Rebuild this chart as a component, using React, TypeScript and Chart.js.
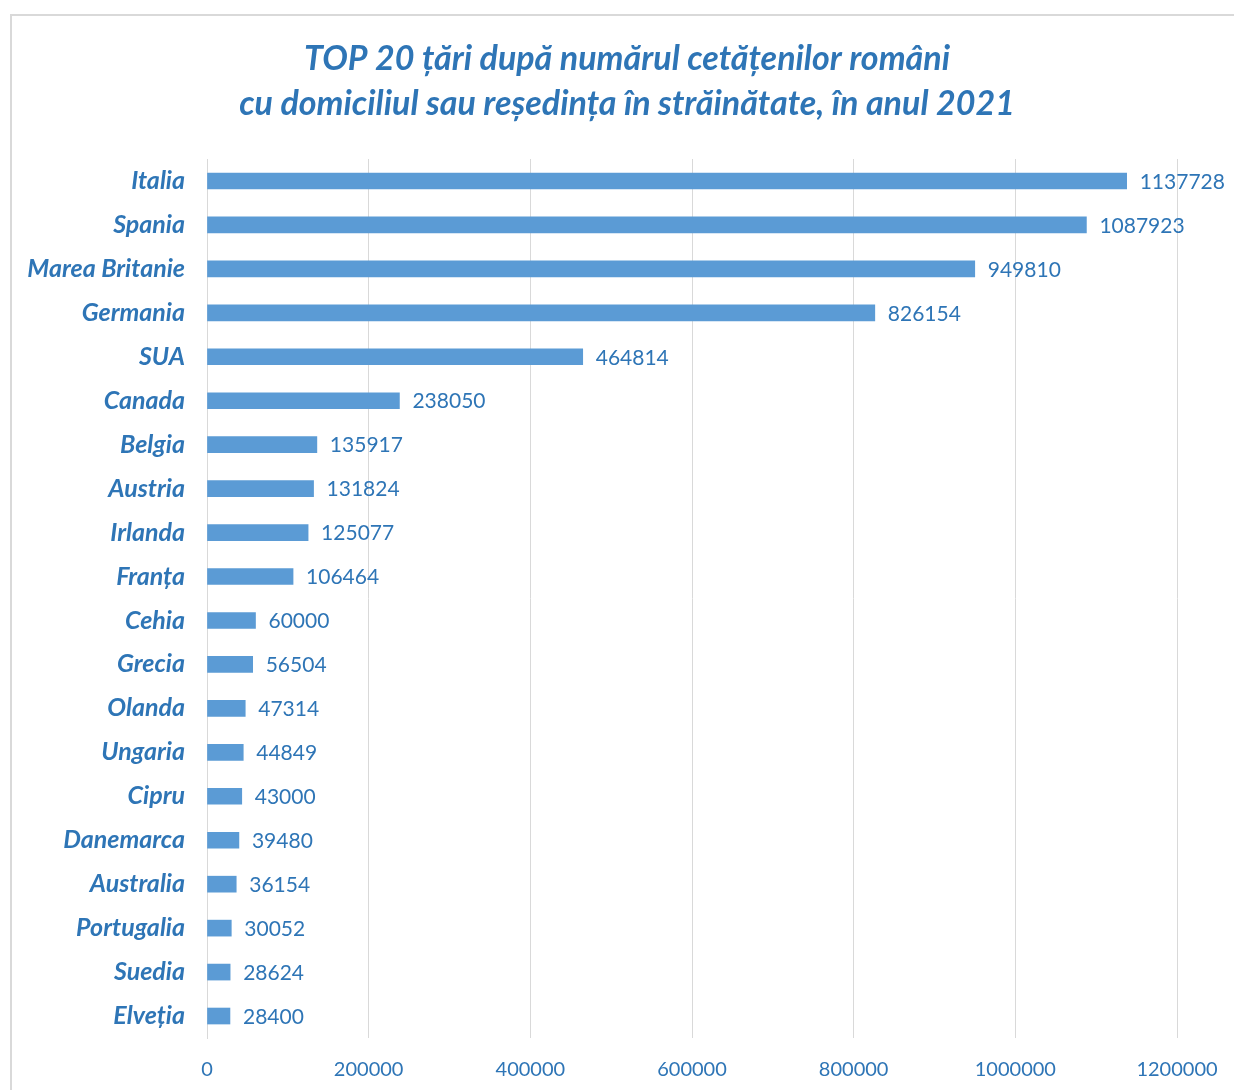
import React, { useEffect, useRef } from "react";
import { Chart, registerables } from "chart.js";

Chart.register(...registerables);

const countries = [
  "Italia", "Spania", "Marea Britanie", "Germania", "SUA", "Canada", "Belgia", "Austria",
  "Irlanda", "Franța", "Cehia", "Grecia", "Olanda", "Ungaria", "Cipru", "Danemarca",
  "Australia", "Portugalia", "Suedia", "Elveția",
];
const citizens = [
  1137728, 1087923, 949810, 826154, 464814, 238050, 135917, 131824,
  125077, 106464, 60000, 56504, 47314, 44849, 43000, 39480,
  36154, 30052, 28624, 28400,
];
const titleLines = [
  "TOP 20 țări după numărul cetățenilor români",
  "cu domiciliul sau reședința în străinătate, în anul 2021",
];

const FONT = "Lato, 'Open Sans', sans-serif";
const BLUE_TEXT = "#2e75b6";
const BAR = "#5b9bd5";
const GRID = "#d9d9d9";

const decorPlugin = {
  id: "decor",
  beforeDraw(chart: any) {
    const ctx = chart.ctx;
    ctx.save();
    ctx.strokeStyle = GRID;
    ctx.lineWidth = 2;
    ctx.beginPath();
    ctx.moveTo(11, 1090);
    ctx.lineTo(11, 15);
    ctx.lineTo(1234, 15);
    ctx.stroke();
    ctx.fillStyle = BLUE_TEXT;
    ctx.font = `italic bold 34px ${FONT}`;
    ctx.textAlign = "center";
    ctx.textBaseline = "middle";
    ctx.fillText(titleLines[0], 627, 59);
    ctx.fillText(titleLines[1], 627, 104);
    ctx.restore();
  },
  afterDatasetsDraw(chart: any) {
    const ctx = chart.ctx;
    const meta = chart.getDatasetMeta(0);
    ctx.save();
    ctx.fillStyle = BLUE_TEXT;
    ctx.font = `21px ${FONT}`;
    ctx.textAlign = "left";
    ctx.textBaseline = "middle";
    meta.data.forEach((el: any, i: number) => {
      ctx.fillText(String(citizens[i]), el.x + 13, el.y + 1);
    });
    ctx.restore();
  },
};

export default function App() {
  const ref = useRef<HTMLCanvasElement>(null);
  useEffect(() => {
    document.body.style.margin = "0";
    const chart = new Chart(ref.current!, {
      type: "bar",
      data: {
        labels: countries,
        datasets: [
          {
            data: citizens,
            backgroundColor: BAR,
            barThickness: 16,
          },
        ],
      },
      options: {
        indexAxis: "y",
        animation: false,
        responsive: false,
        devicePixelRatio: 1,
        layout: { padding: { left: 20, right: 57, top: 159, bottom: 0 } },
        plugins: { legend: { display: false }, tooltip: { enabled: false }, title: { display: false } },
        scales: {
          x: {
            min: 0,
            max: 1200000,
            afterFit: (s: any) => { s.height = 52; s.paddingRight = 0; s.paddingLeft = 0; },
            grid: { color: GRID, drawTicks: false, lineWidth: 1 },
            border: { display: false },
            ticks: {
              stepSize: 200000,
              padding: 20,
              color: BLUE_TEXT,
              font: { family: FONT, size: 20 },
              callback: (v: any) => String(v),
            },
          },
          y: {
            afterFit: (s: any) => { s.width = 187; },
            grid: { display: false, drawTicks: false },
            border: { display: true, color: GRID },
            ticks: {
              padding: 22,
              color: BLUE_TEXT,
              font: { family: FONT, size: 25, style: "italic", weight: "bold" },
            },
          },
        },
      },
      plugins: [decorPlugin],
    });
    return () => chart.destroy();
  }, []);
  return <canvas ref={ref} width={1234} height={1090} style={{ display: "block" }} />;
}
